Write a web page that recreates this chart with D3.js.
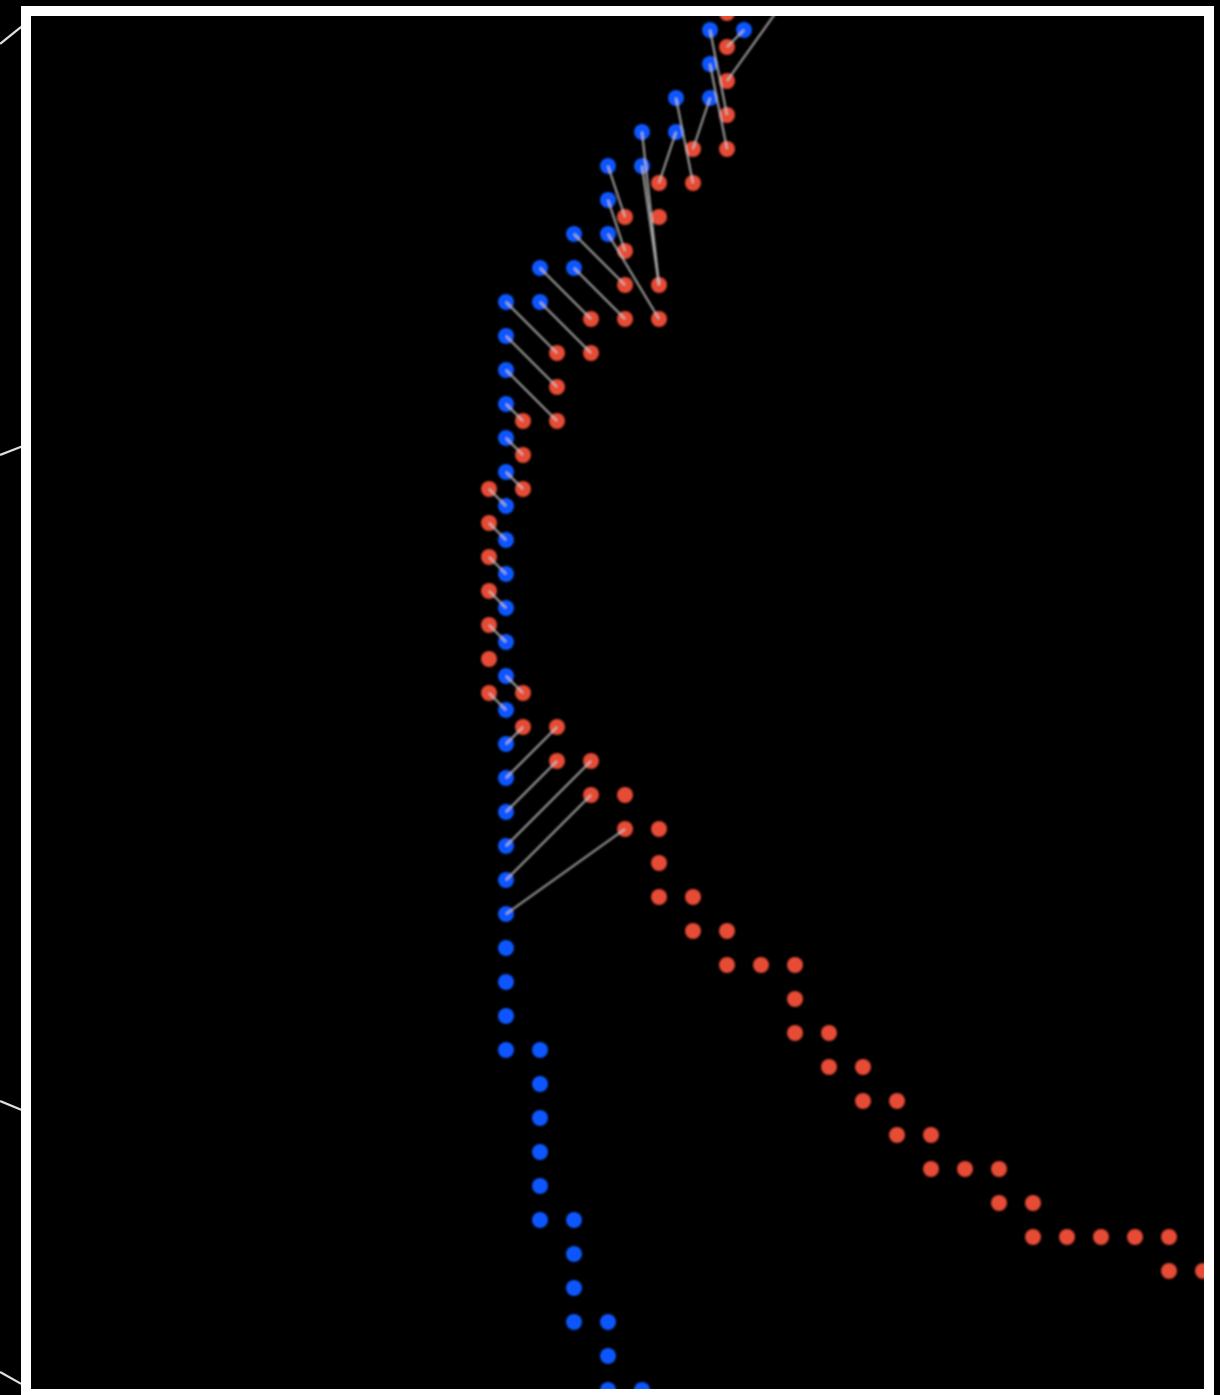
<!DOCTYPE html>
<html>
<head>
<meta charset="utf-8">
<script src="https://cdn.jsdelivr.net/npm/d3@7"></script>
<style>
  html, body { margin: 0; padding: 0; background: #000; }
  svg { display: block; }
</style>
</head>
<body>
<div id="chart"></div>
<script>
// ---- data (grid units: column, row) ----
const blueCols = [6, 7, 6, 5, 6, 4, 5, 3, 4, 3, 2, 3, 1, 2, 0, 1,
  0, 0, 0, 0, 0, 0, 0, 0, 0, 0, 0, 0, 0, 0, 0, 0, 0, 0, 0, 0, 0,
  0, 1, 1, 1, 1, 1, 1, 2, 2, 2, 2, 3, 3, 3, 4, 9];
const blueRows = [0, 0, 1, 2, 2, 3, 3, 4, 4, 5, 6, 6, 7, 7, 8, 8,
  9, 10, 11, 12, 13, 14, 15, 16, 17, 18, 19, 20, 21, 22, 23, 24, 25, 26, 27, 28, 29,
  30, 30, 31, 32, 33, 34, 35, 35, 36, 37, 38, 38, 39, 40, 40, -2];

const redCols = [6.5, 6.5, 6.5, 6.5, 5.5, 6.5, 4.5, 5.5, 3.5, 4.5, 3.5, 3.5, 4.5,
  2.5, 3.5, 4.5, 1.5, 2.5, 1.5, 0.5, 1.5, 0.5, -0.5, 0.5, -0.5, -0.5, -0.5, -0.5, -0.5,
  -0.5, 0.5, 0.5, 1.5, 1.5, 2.5, 2.5, 3.5, 3.5, 4.5, 4.5, 4.5, 5.5, 5.5, 6.5,
  6.5, 7.5, 8.5, 8.5, 8.5, 9.5, 9.5, 10.5, 10.5, 11.5, 11.5, 12.5, 12.5, 13.5, 14.5,
  14.5, 15.5, 15.5, 16.5, 17.5, 18.5, 19.5, 19.5, 20.5];
const redRows = [-0.5, 0.5, 1.5, 2.5, 3.5, 3.5, 4.5, 4.5, 5.5, 5.5, 6.5, 7.5, 7.5,
  8.5, 8.5, 8.5, 9.5, 9.5, 10.5, 11.5, 11.5, 12.5, 13.5, 13.5, 14.5, 15.5, 16.5, 17.5, 18.5,
  19.5, 19.5, 20.5, 20.5, 21.5, 21.5, 22.5, 22.5, 23.5, 23.5, 24.5, 25.5, 25.5, 26.5, 26.5,
  27.5, 27.5, 27.5, 28.5, 29.5, 29.5, 30.5, 30.5, 31.5, 31.5, 32.5, 32.5, 33.5, 33.5, 33.5,
  34.5, 34.5, 35.5, 35.5, 35.5, 35.5, 35.5, 36.5, 36.5];

// links: blue (col,row) -> red (col,row)
const linkFrom = [[9,-2],[6,0],[7,0],[6,1],[5,2],[6,2],[4,3],[5,3],[3,4],[4,4],[3,5],
  [2,6],[3,6],[1,7],[2,7],[0,8],[1,8],[0,9],[0,10],[0,11],[0,12],[0,13],[0,14],[0,15],
  [0,16],[0,17],[0,18],[0,19],[0,20],[0,21],[0,22],[0,23],[0,24],[0,25],[0,26]];
const linkTo = [[6.5,1.5],[6.5,2.5],[6.5,0.5],[6.5,3.5],[5.5,4.5],[5.5,3.5],[4.5,7.5],[4.5,4.5],[3.5,5.5],[4.5,7.5],[3.5,6.5],
  [3.5,7.5],[4.5,8.5],[2.5,8.5],[3.5,8.5],[1.5,9.5],[2.5,9.5],[1.5,10.5],[1.5,11.5],[0.5,11.5],[0.5,12.5],[0.5,13.5],[-0.5,13.5],[-0.5,14.5],
  [-0.5,15.5],[-0.5,16.5],[-0.5,17.5],[0.5,19.5],[-0.5,19.5],[0.5,20.5],[1.5,20.5],[1.5,21.5],[2.5,21.5],[2.5,22.5],[3.5,23.5]];

// leader lines outside the left edge of the view (grid units)
const leaderFrom = [[-14.88, 0.41], [-14.88, 12.50], [-14.88, 31.50], [-14.88, 39.47]];
const leaderTo   = [[-14.26, -0.09], [-14.26, 12.26], [-14.26, 31.76], [-14.26, 39.82]];

// ---- layout ----
const W = 1220, H = 1395;
const view = {x0: 31, x1: 1205, y0: 16, y1: 1389};
const x = d3.scaleLinear().domain([0, 20]).range([506, 1186]);
const y = d3.scaleLinear().domain([0, 40]).range([30, 1390]);

const svg = d3.select('#chart').append('svg')
  .attr('width', W).attr('height', H)
  .style('background', '#000');

const defs = svg.append('defs');
defs.append('clipPath').attr('id', 'clipView')
  .append('rect').attr('x', view.x0).attr('y', view.y0)
  .attr('width', view.x1 - view.x0).attr('height', view.y1 - view.y0);
const blur = defs.append('filter').attr('id', 'soft')
  .attr('x', '-20%').attr('y', '-20%').attr('width', '140%').attr('height', '140%');
blur.append('feGaussianBlur').attr('stdDeviation', 0.9);

const blue = blueCols.map((c, i) => ({c, r: blueRows[i]}));
const red = redCols.map((c, i) => ({c, r: redRows[i]}));
const links = linkFrom.map((f, i) => ({f, t: linkTo[i]}));

const g = svg.append('g').attr('clip-path', 'url(#clipView)');
const marks = g.append('g').attr('filter', 'url(#soft)');

marks.append('g').selectAll('circle').data(red).join('circle')
  .attr('cx', d => x(d.c)).attr('cy', d => y(d.r)).attr('r', 8)
  .attr('fill', '#e64b35');

marks.append('g').selectAll('circle').data(blue).join('circle')
  .attr('cx', d => x(d.c)).attr('cy', d => y(d.r)).attr('r', 8)
  .attr('fill', '#0a57ff');

marks.append('g').selectAll('line').data(links).join('line')
  .attr('x1', d => x(d.f[0])).attr('y1', d => y(d.f[1]))
  .attr('x2', d => x(d.t[0])).attr('y2', d => y(d.t[1]))
  .attr('stroke', '#c4c4c4').attr('stroke-width', 2).attr('stroke-opacity', 0.85);

// leader lines on the left
svg.append('g').selectAll('line').data(leaderFrom).join('line')
  .attr('x1', d => x(d[0])).attr('y1', d => y(d[1]))
  .attr('x2', (d, i) => x(leaderTo[i][0])).attr('y2', (d, i) => y(leaderTo[i][1]))
  .attr('stroke', '#e0e0e0').attr('stroke-width', 2.2);

// frame
svg.append('rect')
  .attr('x', view.x0 - 5).attr('y', view.y0 - 5)
  .attr('width', view.x1 - view.x0 + 9).attr('height', view.y1 - view.y0 + 10)
  .attr('fill', 'none').attr('stroke', '#fff').attr('stroke-width', 10);
</script>
</body>
</html>
